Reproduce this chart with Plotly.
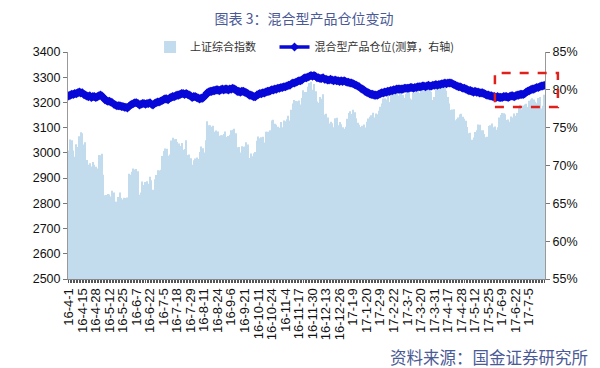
import pandas as pd
import plotly.graph_objects as go

# ---------------- data ----------------
HOLIDAYS = ["2016-04-04", "2016-05-02", "2016-06-09", "2016-06-10", "2016-09-15", "2016-09-16",
            "2016-10-03", "2016-10-04", "2016-10-05", "2016-10-06", "2016-10-07",
            "2017-01-02", "2017-01-27", "2017-01-30", "2017-01-31", "2017-02-01", "2017-02-02",
            "2017-04-03", "2017-04-04", "2017-05-01", "2017-05-29", "2017-05-30"]
START, END = "2016-04-01", "2017-07-19"

TICK_LABELS = ["16-4-1", "16-4-15", "16-4-28", "16-5-12", "16-5-25", "16-6-7", "16-6-22", "16-7-5",
               "16-7-18", "16-7-29", "16-8-11", "16-8-24", "16-9-6", "16-9-21", "16-10-11", "16-10-24",
               "16-11-4", "16-11-17", "16-11-30", "16-12-13", "16-12-26", "17-1-9", "17-1-20", "17-2-9",
               "17-2-22", "17-3-7", "17-3-20", "17-3-31", "17-4-17", "17-4-28", "17-5-12", "17-5-25",
               "17-6-9", "17-6-22", "17-7-5"]

SH_INDEX = [
    # 2016-04
    3009, 3053, 3050, 3009, 2985, 3034, 3023, 3066, 3082, 3078, 3033, 3042, 2972, 2953, 2959, 2946, 2964, 2953, 2945, 2938,
    # 2016-05
    2992, 2991, 2997, 2913, 2832, 2833, 2837, 2835, 2827, 2850, 2843, 2807, 2806, 2825, 2843, 2821, 2815, 2822, 2821, 2823, 2917,
    # 2016-06
    2913, 2925, 2938, 2934, 2936, 2927, 2834, 2843, 2887, 2873, 2885, 2888, 2878, 2905, 2892, 2854, 2895, 2912, 2931, 2930,
    # 2016-07
    2933, 2988, 3007, 3017, 3016, 2989, 2994, 3049, 3060, 3054, 3055, 3043, 3037, 3027, 3039, 3012, 3015, 3050, 2992, 2994, 2979,
    # 2016-08
    2953, 2971, 2978, 2982, 2976, 3004, 3025, 3018, 3002, 3050, 3125, 3110, 3110, 3104, 3108, 3084, 3089, 3085, 3068, 3070, 3070, 3075, 3085,
    # 2016-09
    3063, 3067, 3072, 3090, 3092, 3096, 3078, 3022, 3023, 3002, 3026, 3024, 3025, 3042, 3033, 2980, 2998, 2987, 2999, 3004,
    # 2016-10
    3048, 3065, 3058, 3062, 3064, 3041, 3084, 3084, 3084, 3090, 3128, 3131, 3116, 3112, 3104, 3100,
    # 2016-11
    3122, 3102, 3128, 3125, 3133, 3147, 3128, 3171, 3196, 3210, 3206, 3205, 3208, 3192, 3218, 3248, 3241, 3241, 3262, 3277, 3282, 3250,
    # 2016-12
    3273, 3244, 3204, 3199, 3222, 3215, 3232, 3152, 3155, 3140, 3117, 3123, 3118, 3102, 3137, 3139, 3110, 3122, 3114, 3102, 3096, 3104,
    # 2017-01
    3135, 3158, 3165, 3154, 3171, 3161, 3137, 3119, 3112, 3103, 3108, 3113, 3101, 3123, 3136, 3143, 3149, 3159,
    # 2017-02
    3140, 3156, 3153, 3167, 3183, 3196, 3216, 3217, 3212, 3229, 3202, 3240, 3253, 3261, 3251, 3253, 3228, 3242,
    # 2017-03
    3246, 3230, 3218, 3233, 3243, 3240, 3216, 3212, 3237, 3239, 3241, 3268, 3237, 3250, 3262, 3245, 3248, 3269, 3266, 3253, 3241, 3210, 3222,
    # 2017-04
    3270, 3281, 3286, 3269, 3288, 3273, 3275, 3246, 3222, 3196, 3170, 3172, 3173, 3129, 3134, 3140, 3152, 3155,
    # 2017-05
    3143, 3135, 3127, 3103, 3078, 3080, 3052, 3061, 3083, 3090, 3113, 3112, 3090, 3090, 3075, 3062, 3064, 3107, 3110, 3117,
    # 2017-06
    3102, 3105, 3092, 3102, 3140, 3150, 3158, 3157, 3153, 3130, 3132, 3123, 3144, 3140, 3156, 3147, 3158, 3185, 3191, 3173, 3188, 3192,
    # 2017-07
    3195, 3182, 3207, 3212, 3217, 3212, 3203, 3197, 3218, 3222, 3176, 3187, 3231,
]

POSITION = [
    79.2, 79.3, 79.4, 79.4, 79.5, 79.5, 79.6, 79.7, 79.6, 79.6,
    79.4, 79.3, 79.2, 79.1, 79.2, 79.0, 79.1, 79.1, 79.0, 79.1,
    79.2, 79.3, 79.2, 79.0, 78.7, 78.6, 78.5, 78.5, 78.4, 78.3,
    78.1, 78.0, 77.9, 77.9, 77.9, 77.8, 77.8, 77.7, 77.7, 77.6,
    77.8, 78.0, 78.1, 78.2, 78.3, 78.3, 78.2, 78.0, 78.1, 78.2,
    78.2, 78.1, 78.2, 78.2, 78.3, 78.1, 78.0, 78.2, 78.3, 78.4,
    78.4, 78.5, 78.6, 78.7, 78.8, 78.8, 78.7, 78.9, 79.0, 79.1,
    79.1, 79.2, 79.3, 79.3, 79.4, 79.5, 79.5, 79.4, 79.5, 79.4,
    79.3, 79.2, 79.0, 79.1, 79.1, 79.0, 78.9, 78.8, 78.9, 78.9,
    79.1, 79.3, 79.6, 79.7, 79.8, 79.8, 79.9, 79.9, 80.0, 80.0,
    79.9, 80.0, 80.1, 80.0, 80.1, 80.1, 80.0, 80.1, 80.1, 80.2,
    80.1, 80.0, 79.8, 79.8, 79.7, 79.8, 79.8, 79.7, 79.6, 79.5,
    79.3, 79.3, 79.2, 79.1, 79.1, 79.3, 79.4, 79.5, 79.5, 79.6,
    79.6, 79.7, 79.8, 79.8, 79.9, 80.0, 80.0, 80.1, 80.1, 80.2,
    80.2, 80.3, 80.3, 80.4, 80.4, 80.5, 80.6, 80.6, 80.8, 80.9,
    80.9, 81.0, 81.1, 81.2, 81.2, 81.3, 81.5, 81.6, 81.6, 81.7,
    81.8, 81.9, 81.8, 81.9, 81.8, 81.6, 81.6, 81.5, 81.5, 81.6,
    81.4, 81.4, 81.3, 81.3, 81.4, 81.3, 81.2, 81.3, 81.2, 81.2,
    81.1, 81.2, 81.1, 81.2, 81.1, 81.0, 81.0, 80.9, 80.9, 80.8,
    80.7, 80.6, 80.5, 80.4, 80.2, 80.1, 80.0, 79.8, 79.7, 79.6,
    79.5, 79.4, 79.4, 79.3, 79.3, 79.3, 79.4, 79.5, 79.6, 79.6,
    79.7, 79.7, 79.8, 79.8, 79.9, 79.9, 80.0, 80.0, 80.1, 80.1,
    80.1, 80.1, 80.1, 80.2, 80.2, 80.2, 80.2, 80.3, 80.3, 80.2,
    80.3, 80.3, 80.4, 80.4, 80.4, 80.5, 80.5, 80.4, 80.5, 80.6,
    80.5, 80.5, 80.6, 80.6, 80.7, 80.6, 80.7, 80.7, 80.8, 80.8,
    80.9, 80.8, 80.9, 80.9, 80.9, 80.8, 80.7, 80.6, 80.5, 80.4,
    80.4, 80.3, 80.2, 80.2, 80.1, 80.0, 79.9, 79.9, 79.8, 79.7,
    79.8, 79.7, 79.7, 79.6, 79.6, 79.6, 79.5, 79.4, 79.3, 79.3,
    79.2, 79.2, 79.1, 79.1, 79.0, 79.1, 79.0, 79.0, 79.0, 79.1,
    79.1, 79.1, 79.0, 79.1, 79.2, 79.2, 79.1, 79.2, 79.3, 79.3,
    79.4, 79.4, 79.4, 79.5, 79.7, 79.8, 79.9, 80.0, 80.1, 80.1,
    80.2, 80.3, 80.3, 80.4, 80.5, 80.5, 80.6,
]

TITLE = "图表 3：混合型产品仓位变动"
SOURCE = "资料来源：国金证券研究所"
NAME_BAR = "上证综合指数"
NAME_LINE = "混合型产品仓位(测算，右轴)"

# ---------------- build ----------------
days = [d for d in pd.bdate_range(START, END) if d.strftime("%Y-%m-%d") not in HOLIDAYS]
dates = [f"{d.year % 100}-{d.month}-{d.day}" for d in days]
assert len(dates) == len(SH_INDEX) == len(POSITION), (len(dates), len(SH_INDEX), len(POSITION))

FONT = "Liberation Sans, Arial, Noto Sans CJK SC, sans-serif"
CJK = "Noto Sans CJK SC, sans-serif"
BLUE = "#0808d8"

fig = go.Figure()
fig.add_trace(go.Bar(x=dates, y=SH_INDEX, name=NAME_BAR + "\u3000\u00a0",
                     marker=dict(color="#c2dbed", line=dict(width=0)), yaxis="y"))
fig.add_trace(go.Scatter(x=dates, y=POSITION, name=NAME_LINE, mode="lines+markers",
                         line=dict(color=BLUE, width=3.5),
                         marker=dict(symbol="diamond", size=7, color=BLUE),
                         yaxis="y2"))

ticktext = [d if d in TICK_LABELS else "" for d in dates]

# the page body adds an 8 px offset, so the figure is 8 px smaller than the window
fig.update_layout(
    width=592, height=360,
    margin=dict(l=60, r=55, t=44, b=89, autoexpand=False),
    paper_bgcolor="white", plot_bgcolor="white",
    bargap=0.3,
    showlegend=True,
    legend=dict(orientation="h", x=0.172, y=1.022, xanchor="left", yanchor="middle",
                font=dict(family=CJK, size=11, color="#333"), bgcolor="rgba(0,0,0,0)",
                itemwidth=30),
    xaxis=dict(type="category", tickmode="array", tickvals=dates, ticktext=ticktext,
               tickangle=-90, tickfont=dict(family=FONT, size=13, color="#111"),
               ticks="outside", ticklen=3, tickcolor="#555", tickwidth=1,
               showline=True, linecolor="#888", showgrid=False, zeroline=False,
               automargin=False, range=[-0.5, len(dates) - 0.5]),
    yaxis=dict(range=[2500, 3400], dtick=100, tickfont=dict(family=FONT, size=12.5, color="#111"),
               ticks="outside", ticklen=4, tickcolor="#777", showline=True, linecolor="#999",
               showgrid=False, zeroline=False, automargin=False),
    yaxis2=dict(range=[55, 85], dtick=5, overlaying="y", side="right", ticksuffix="%",
                tickfont=dict(family=FONT, size=12.5, color="#111"),
                ticks="outside", ticklen=4, tickcolor="#777", showline=True, linecolor="#999",
                showgrid=False, zeroline=False, automargin=False),
    title=dict(text=TITLE, x=0.5, xanchor="center", y=0.969, yanchor="middle",
               font=dict(family=CJK, size=14, color="#4a5a96")),
)

fig.add_annotation(text=SOURCE, xref="paper", yref="paper", x=1.094, y=-0.344,
                   xanchor="right", yanchor="middle", showarrow=False,
                   font=dict(family=CJK, size=16.5, color="#4a5a96"))

fig.add_shape(type="rect", xref="paper", yref="paper", x0=0.895, x1=1.027, y0=0.758, y1=0.907,
              line=dict(color="#e0201b", width=2.5, dash="dash"), fillcolor="rgba(0,0,0,0)")

fig.write_html("out.html")
